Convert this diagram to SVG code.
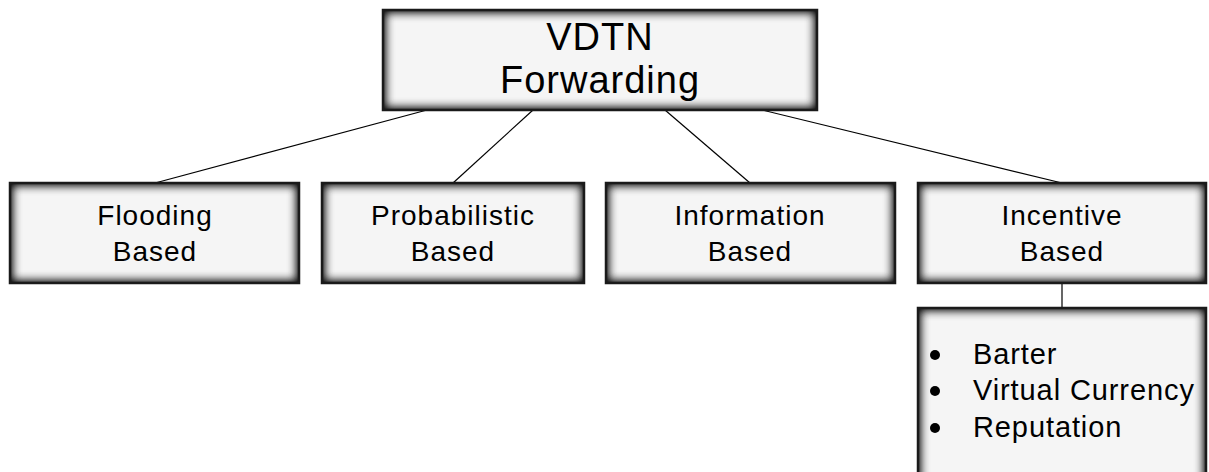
<svg xmlns="http://www.w3.org/2000/svg" width="1209" height="472" viewBox="0 0 1209 472">
  <defs>
    <!-- soft dark inner glow along the box edges -->
    <filter id="inset" filterUnits="objectBoundingBox" x="-0.2" y="-0.4" width="1.4" height="1.8" color-interpolation-filters="sRGB">
      <feFlood flood-color="#000000" flood-opacity="1" result="c"/>
      <feComposite in="c" in2="SourceAlpha" operator="out" result="inv"/>
      <feGaussianBlur in="inv" stdDeviation="5.5" result="blur"/>
      <feComposite in="blur" in2="SourceAlpha" operator="in" result="shadow"/>
      <feMerge>
        <feMergeNode in="SourceGraphic"/>
        <feMergeNode in="shadow"/>
        <feMergeNode in="shadow"/>
      </feMerge>
    </filter>
  </defs>
  <style>
    .box { fill: #f5f5f5; }
    .edge { fill: none; stroke: #1a1a1a; stroke-width: 2.5; }
    .lbl { font-family: "Liberation Sans", Arial, sans-serif; font-size: 28px; fill: #000; text-anchor: middle; letter-spacing: 1px; }
    .big { font-size: 38px; }
    .item { font-family: "Liberation Sans", Arial, sans-serif; font-size: 29px; fill: #000; letter-spacing: 0.9px; }
    .link { stroke: #000; stroke-width: 1.2; fill: none; }
  </style>
  <rect width="1209" height="472" fill="#fff"/>

  <g id="connectors">
    <line class="link" x1="427" y1="110" x2="155" y2="183"/>
    <line class="link" x1="533" y1="110" x2="453" y2="183"/>
    <line class="link" x1="665" y1="110" x2="750" y2="183"/>
    <line class="link" x1="762" y1="110" x2="1062" y2="183"/>
    <line class="link" x1="1062" y1="283" x2="1062" y2="308"/>
  </g>

  <g id="vdtn-forwarding">
    <rect class="box" filter="url(#inset)" x="383" y="10" width="434" height="100"/>
    <rect class="edge" x="383" y="10" width="434" height="100"/>
    <text class="lbl big" x="600" y="50">VDTN</text>
    <text class="lbl big" x="600" y="93">Forwarding</text>
  </g>

  <g id="flooding">
    <rect class="box" filter="url(#inset)" x="10" y="183" width="289" height="100"/>
    <rect class="edge" x="10" y="183" width="289" height="100"/>
    <text class="lbl" x="155" y="225">Flooding</text>
    <text class="lbl" x="155" y="261">Based</text>
  </g>

  <g id="probabilistic">
    <rect class="box" filter="url(#inset)" x="322" y="183" width="262" height="100"/>
    <rect class="edge" x="322" y="183" width="262" height="100"/>
    <text class="lbl" x="453" y="225">Probabilistic</text>
    <text class="lbl" x="453" y="261">Based</text>
  </g>

  <g id="information">
    <rect class="box" filter="url(#inset)" x="606" y="183" width="289" height="100"/>
    <rect class="edge" x="606" y="183" width="289" height="100"/>
    <text class="lbl" x="750" y="225">Information</text>
    <text class="lbl" x="750" y="261">Based</text>
  </g>

  <g id="incentive">
    <rect class="box" filter="url(#inset)" x="918" y="183" width="288" height="100"/>
    <rect class="edge" x="918" y="183" width="288" height="100"/>
    <text class="lbl" x="1062" y="225">Incentive</text>
    <text class="lbl" x="1062" y="261">Based</text>
  </g>

  <g id="incentive-types">
    <rect class="box" filter="url(#inset)" x="918" y="308" width="288" height="180"/>
    <rect class="edge" x="918" y="308" width="288" height="180"/>
    <circle cx="935" cy="355" r="5"/>
    <circle cx="935" cy="391" r="5"/>
    <circle cx="935" cy="428" r="5"/>
    <text class="item" x="973" y="364">Barter</text>
    <text class="item" x="973" y="400">Virtual Currency</text>
    <text class="item" x="973" y="437">Reputation</text>
  </g>
</svg>
